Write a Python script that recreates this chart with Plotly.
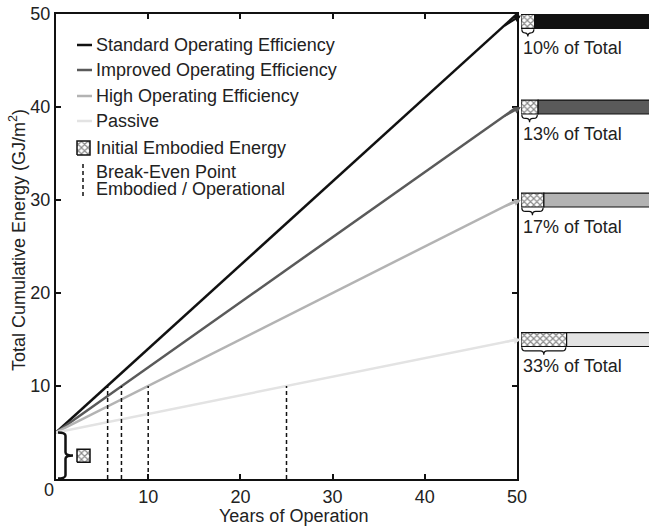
import plotly.graph_objects as go

# ---------------- data ----------------
years = [0, 50]
series_names = ["Standard Operating Efficiency", "Improved Operating Efficiency",
                "High Operating Efficiency", "Passive"]
standard = [5, 50]
improved = [5, 40]
high = [5, 30]
passive = [5, 15]
embodied_energy = 5
break_even_years = [5.6, 7.1, 10, 25]
break_even_total = 10
embodied_share = [0.10, 0.125, 0.167, 0.333]
share_labels = ["10% of Total", "13% of Total", "17% of Total", "33% of Total"]
x_ticks = [10, 20, 30, 40, 50]
y_ticks = [10, 20, 30, 40, 50]

# ---------------- style ----------------
colors = ["#111111", "#5a5a5a", "#b3b3b3", "#e3e3e3"]
FONT = "Liberation Sans, Arial, sans-serif"
TXT = "#222222"
FS = 18
W, H = 649, 528
L, T, R_AX, B = 56, 14, 517, 479
PW, PH = W - L, B - T
XMAX, YMAX = 50, 50
BAR_H = 1.5


def px(p):
    return (p - L) / PW


def py(p):
    return (B - p) / PH


def dx(p):
    return (p - L) / (R_AX - L) * XMAX


def dy(p):
    return (B - p) / (B - T) * YMAX


fig = go.Figure()
series = [standard, improved, high, passive]

# main lines
for name, vals, c in zip(series_names, series, colors):
    fig.add_trace(go.Scatter(x=years, y=vals, mode="lines", name=name,
                             line=dict(color=c, width=2.5), showlegend=False,
                             hoverinfo="skip"))

# break-even dashed lines
for bx in break_even_years:
    fig.add_trace(go.Scatter(x=[bx, bx], y=[0, break_even_total], mode="lines",
                             line=dict(color="#111111", width=1.5, dash="4px,3px"),
                             showlegend=False, hoverinfo="skip"))

PAT = dict(shape="x", fgcolor="#111111", bgcolor="white", size=4.5,
           solidity=0.45, fillmode="overlay")


def hatch_square(x0, x1, y0, y1):
    fig.add_trace(go.Scatter(x=[x0, x1, x1, x0, x0], y=[y0, y0, y1, y1, y0],
                             mode="lines", fill="toself", fillcolor="white",
                             fillpattern=PAT, line=dict(color="#111111", width=1.5),
                             showlegend=False, hoverinfo="skip"))


# embodied energy marker near the brace
hatch_square(dx(77), dx(90), embodied_energy / 2 - 0.7, embodied_energy / 2 + 0.7)
# legend hatch square
hatch_square(dx(77), dx(90), dy(155), dy(141))

# ---------------- right-hand bars ----------------
ends = [s[-1] for s in series]
centers = [min(v, YMAX - BAR_H / 2 - 0.05) for v in ends]
fig.add_trace(go.Bar(orientation="h", x=embodied_share, y=centers, base=0,
                     width=BAR_H, xaxis="x2", yaxis="y",
                     marker=dict(color="white", pattern=PAT,
                                 line=dict(color="#111111", width=1.2)),
                     showlegend=False, hoverinfo="skip"))
fig.add_trace(go.Bar(orientation="h", x=[1 - s for s in embodied_share], y=centers,
                     base=embodied_share, width=BAR_H, xaxis="x2", yaxis="y",
                     marker=dict(color=colors, line=dict(color="#111111", width=1.2)),
                     showlegend=False, hoverinfo="skip"))

shapes = []
annotations = []

# braces under hatched part
for s, yc, lab in zip(embodied_share, centers, share_labels):
    x0, x1 = 0.006, s - 0.006
    xm = (x0 + x1) / 2
    yt = yc - BAR_H / 2 - 0.08
    d = 0.8
    r = 0.025
    path = (f"M {x0},{yt} Q {x0},{yt - d / 2} {x0 + r},{yt - d / 2} "
            f"L {xm - r},{yt - d / 2} Q {xm},{yt - d / 2} {xm},{yt - d} "
            f"Q {xm},{yt - d / 2} {xm + r},{yt - d / 2} "
            f"L {x1 - r},{yt - d / 2} Q {x1},{yt - d / 2} {x1},{yt}")
    shapes.append(dict(type="path", path=path, xref="x2", yref="y",
                       line=dict(color="#111111", width=1.2)))
    annotations.append(dict(x=0, y=yc - BAR_H / 2, xref="x2", yref="y",
                            xanchor="left", yanchor="top", yshift=-8,
                            text=lab, showarrow=False,
                            font=dict(family=FONT, size=FS, color=TXT)))

# arrows from line ends to the bars
for vals, yc, c in zip(series, centers, colors):
    xt = 48.5
    yt = vals[0] + (vals[-1] - vals[0]) * xt / years[-1]
    annotations.append(dict(x=dx(521), y=vals[-1] if vals[-1] < YMAX else yc + BAR_H / 2 - 0.1,
                            xref="x", yref="y", ax=xt, ay=yt, axref="x", ayref="y",
                            showarrow=True, arrowhead=2, arrowsize=0.7,
                            arrowwidth=2, arrowcolor=c, standoff=0, text=""))

# big brace for the embodied energy (0 .. embodied)
xl, w = dx(58), dx(73) - dx(58)
xm = xl + w / 2
y0, y1 = 0.05, embodied_energy
ym = (y0 + y1) / 2
r = 0.35
path = (f"M {xl},{y0} Q {xm},{y0} {xm},{y0 + r} L {xm},{ym - r} "
        f"Q {xm},{ym} {xl + w},{ym} Q {xm},{ym} {xm},{ym + r} "
        f"L {xm},{y1 - r} Q {xm},{y1} {xl},{y1}")
shapes.append(dict(type="path", path=path, xref="x", yref="y",
                   line=dict(color="#111111", width=2.5)))

# ---------------- manual legend ----------------
leg_rows = [45, 70, 96, 121]
for yrow, name, c in zip(leg_rows, series_names, colors):
    shapes.append(dict(type="line", xref="paper", yref="paper",
                       x0=px(77), x1=px(92), y0=py(yrow), y1=py(yrow),
                       line=dict(color=c, width=2.5)))
    annotations.append(dict(x=px(94), y=py(yrow), xref="paper", yref="paper",
                            xanchor="left", yanchor="middle", text=name,
                            showarrow=False, font=dict(family=FONT, size=FS, color=TXT)))
annotations.append(dict(x=px(94), y=py(148), xref="paper", yref="paper",
                        xanchor="left", yanchor="middle", text="Initial Embodied Energy",
                        showarrow=False, font=dict(family=FONT, size=FS, color=TXT)))
shapes.append(dict(type="line", xref="paper", yref="paper",
                   x0=px(83), x1=px(83), y0=py(164), y1=py(197),
                   line=dict(color="#111111", width=1.5, dash="4px,3px")))
for yrow, txt in zip([172, 189], ["Break-Even Point", "Embodied / Operational"]):
    annotations.append(dict(x=px(94), y=py(yrow), xref="paper", yref="paper",
                            xanchor="left", yanchor="middle", text=txt,
                            showarrow=False, font=dict(family=FONT, size=FS, color=TXT)))

# axis titles and shared zero label
annotations.append(dict(x=px(293), y=py(516), xref="paper", yref="paper",
                        xanchor="center", yanchor="middle", text="Years of Operation",
                        showarrow=False, font=dict(family=FONT, size=FS, color=TXT)))
annotations.append(dict(x=px(18), y=py(240), xref="paper", yref="paper",
                        xanchor="center", yanchor="middle", textangle=-90,
                        text="Total Cumulative Energy (GJ/m<sup>2</sup>)",
                        showarrow=False, font=dict(family=FONT, size=FS, color=TXT)))
annotations.append(dict(x=px(49), y=py(490), xref="paper", yref="paper",
                        xanchor="center", yanchor="middle", text="0",
                        showarrow=False, font=dict(family=FONT, size=FS, color=TXT)))

axis_common = dict(showgrid=False, zeroline=False, showline=True, linecolor="#111111",
                   linewidth=2, mirror="ticks", ticks="inside", ticklen=5,
                   tickwidth=1.5, tickcolor="#111111", automargin=False,
                   tickfont=dict(family=FONT, size=FS, color=TXT))

fig.update_layout(
    template="none",
    width=W, height=H, autosize=False,
    margin=dict(l=L, r=0, t=T, b=H - B, pad=0, autoexpand=False),
    paper_bgcolor="white", plot_bgcolor="white",
    barmode="overlay",
    showlegend=False,
    xaxis=dict(domain=[0, px(R_AX)], range=[0, XMAX], tickvals=x_ticks,
               anchor="y", **axis_common),
    yaxis=dict(domain=[0, 1], range=[0, YMAX], tickvals=y_ticks,
               anchor="x", **axis_common),
    xaxis2=dict(domain=[px(521), 1], range=[0, 128 / 137], visible=False,
                anchor="y", fixedrange=True, automargin=False),
    shapes=shapes,
    annotations=annotations,
)

fig.write_html("out.html",
               config={"responsive": False, "displayModeBar": False},
               post_script="document.body.style.margin='0';"
                           "document.body.style.overflow='hidden';")
